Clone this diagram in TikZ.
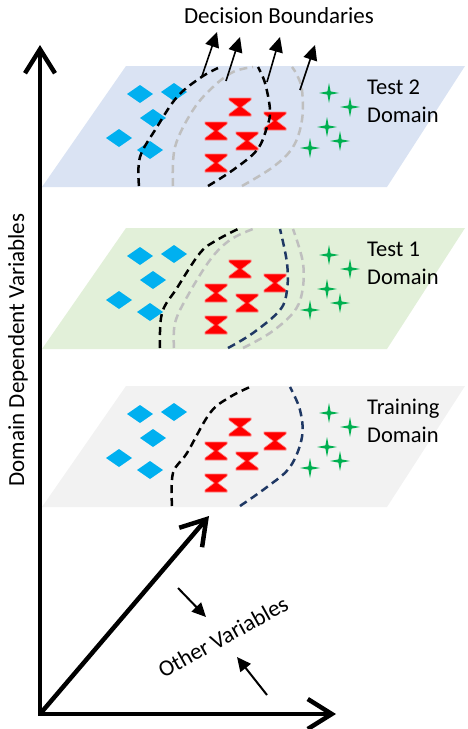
\documentclass[tikz,border=0pt]{standalone}
\usepackage{fontspec}
\setmainfont{Carlito}
\usetikzlibrary{arrows.meta}

\definecolor{planeblue}{HTML}{DAE3F3}
\definecolor{planegreen}{HTML}{E2F0D9}
\definecolor{planegrey}{HTML}{F2F2F2}
\definecolor{ptblue}{HTML}{00B0F0}
\definecolor{ptred}{HTML}{FF0000}
\definecolor{ptredline}{HTML}{FF8080}
\definecolor{ptgreen}{HTML}{00B050}
\definecolor{bndgrey}{HTML}{BFBFBF}
\definecolor{bndnavy}{HTML}{1F3864}

% the same three clusters sit on every domain plane (coordinates relative to the plane's top edge)
\newcommand\pointcloud{%
  \pic at (140,28) {diam};
  \pic at (174,26) {diam};
  \pic at (153,52) {diam};
  \pic at (119,72) {diam};
  \pic at (150,84) {diam};
  \pic at (240,41) {hglass};
  \pic at (275,55) {hglass};
  \pic at (216,65) {hglass};
  \pic at (247,75) {hglass};
  \pic at (216,97) {hglass};
  \pic at (329,27) {spark};
  \pic at (350,41) {spark};
  \pic at (327,61) {spark};
  \pic at (340,75) {spark};
  \pic at (310,82) {spark};
}

\begin{document}
\begin{tikzpicture}[x=1pt,y=-1pt,
  bnd/.style={line width=2.5pt, dash pattern=on 8pt off 5pt},
  mainaxis/.style={line width=4.5pt, line join=miter,
    {Straight Barb[length=24pt,width=30pt]}-{Straight Barb[length=24pt,width=30pt]}},
  diagaxis/.style={line width=4.5pt, -{Straight Barb[length=24pt,width=30pt]}},
  callout/.style={line width=2pt, -{Triangle[length=14pt,width=13pt]}},
  pointer/.style={line width=1.6pt, -{Triangle[length=15pt,width=14pt]}},
  lbl/.style={font=\fontsize{22.5}{28}\selectfont, align=left, anchor=base west, inner sep=0pt},
  txt/.style={font=\fontsize{23}{28}\selectfont, inner sep=0pt},
  diam/.pic={\fill[ptblue] (-13,0)--(0,-9)--(13,0)--(0,9)--cycle;},
  hglass/.pic={\filldraw[fill=ptred, draw=ptredline, line width=0.6pt]
    (-11,-9)--(11,-9)--(11,-7)--(1.8,0)--(11,7)--(11,9)--(-11,9)--(-11,7)--(-1.8,0)--(-11,-7)--cycle;},
  spark/.pic={\fill[ptgreen] (0,-10)--(1.6,-1.6)--(10,0)--(1.6,1.6)--(0,10)--(-1.6,1.6)--(-10,0)--(-1.6,-1.6)--cycle;}
]
\useasboundingbox (0,0) rectangle (468,729);

% ---- Test 2 domain ----
\begin{scope}[shift={(0,66)}]
  \fill[planeblue] (126,0) -- (465,0) -- (387,121) -- (42,121) -- cycle;
  \pointcloud
  \node[lbl] (t2lbl) at (367,56) {Test 2\\Domain};
\end{scope}

% ---- Test 1 domain ----
\begin{scope}[shift={(0,228)}]
  \fill[planegreen] (126,0) -- (465,0) -- (387,121) -- (42,121) -- cycle;
  \pointcloud
  \node[lbl] (t1lbl) at (367,56) {Test 1\\Domain};
\end{scope}

% ---- Training domain ----
\begin{scope}[shift={(0,386)}]
  \fill[planegrey] (126,0) -- (465,0) -- (387,121) -- (42,121) -- cycle;
  \pointcloud
  \node[lbl] (trlbl) at (367,56) {Training\\Domain};
\end{scope}

% ---- decision boundaries, Test 2 ----
\draw[bnd, black] plot[smooth, tension=0.6] coordinates {(139,186) (140,157) (157,127) (177,97) (200,78) (218,68)};
\draw[bnd, bndgrey] plot[smooth, tension=0.6] coordinates {(173,186) (175,147) (193,110) (213,87) (233,72) (253,67)};
\draw[bnd, black] plot[smooth, tension=0.6] coordinates {(208,186) (233,170) (257,150) (267,127) (270,110) (265,83) (258,67)};
\draw[bnd, bndgrey] plot[smooth, tension=0.6] coordinates {(242,186) (273,167) (293,147) (302,120) (302,90) (297,75) (292,67)};

% ---- decision boundaries, Test 1 ----
\draw[bnd, black] plot[smooth, tension=0.6] coordinates {(160,348) (162,313) (177,288) (200,253) (217,240) (238,229)};
\draw[bnd, bndgrey] plot[smooth, tension=0.6] coordinates {(174,348) (175,323) (187,297) (210,260) (230,240) (253,229)};
\draw[bnd, bndnavy] plot[smooth, tension=0.6] coordinates {(228,348) (253,333) (280,310) (287,290) (287,263) (280,229)};
\draw[bnd, bndgrey] plot[smooth, tension=0.6] coordinates {(243,348) (270,333) (293,313) (302,293) (303,263) (293,229)};

% ---- decision boundaries, Training ----
\draw[bnd, black] plot[smooth, tension=0.6] coordinates {(172,506) (173,473) (187,453) (210,413) (230,397) (250,387)};
\draw[bnd, bndnavy] plot[smooth, tension=0.6] coordinates {(240,506) (267,487) (290,467) (302,437) (300,410) (290,387)};

% ---- "Decision Boundaries" label and its pointers ----
\node[txt, anchor=base] (dblbl) at (279,23) {Decision Boundaries};
\coordinate (b1) at (202,76);
\coordinate (b2) at (226,81);
\coordinate (b3) at (267,82);
\coordinate (b4) at (300,90);
\coordinate (p1) at (217,32);
\coordinate (p2) at (240,37);
\coordinate (p3) at (280,37);
\coordinate (p4) at (315,45);
\draw[pointer] (b1) -- (p1);
\draw[pointer] (b2) -- (p2);
\draw[pointer] (b3) -- (p3);
\draw[pointer] (b4) -- (p4);

% ---- axes ----
\coordinate (origin) at (40,714);
\coordinate (ytip) at (40,45);
\coordinate (xtip) at (336,714);
\coordinate (dtip) at (209,516);
\draw[mainaxis] (ytip) -- (origin) -- (xtip);
\draw[diagaxis] (origin) -- (dtip);

\node[txt, rotate=90] (ddv) at (18,350) {Domain Dependent Variables};
\node[txt, rotate=29] (ovlbl) at (223,637) {Other Variables};

\coordinate (c1s) at (178,588);
\coordinate (c1e) at (206,617);
\coordinate (c2s) at (267,695);
\coordinate (c2e) at (237,657);
\draw[callout] (c1s) -- (c1e);
\draw[callout] (c2s) -- (c2e);
\end{tikzpicture}
\end{document}
